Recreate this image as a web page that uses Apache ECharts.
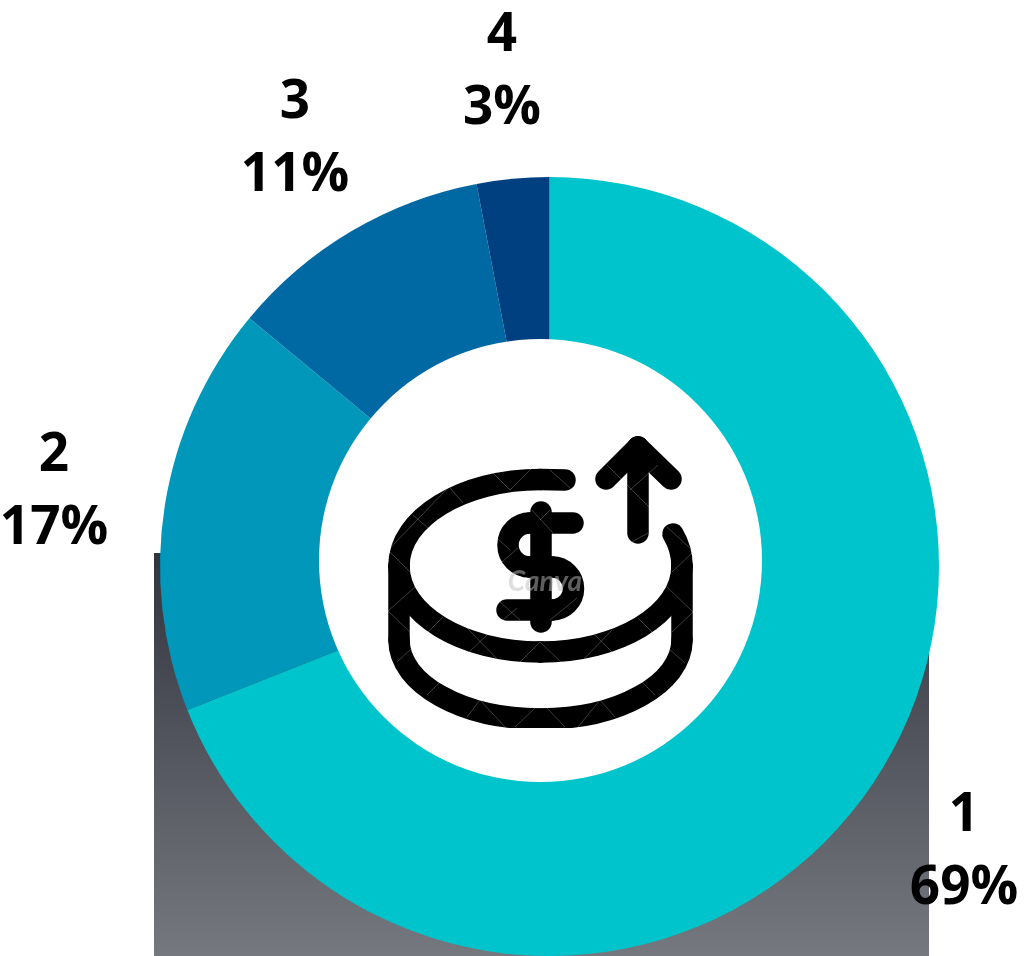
<!DOCTYPE html>
<html>
<head>
<meta charset="utf-8">
<style>
  html, body { margin: 0; padding: 0; background: #fff; overflow: hidden; }
  #chart { width: 1025px; height: 956px; }
</style>
</head>
<body>
<div id="chart"></div>
<script src="https://cdn.jsdelivr.net/npm/echarts@6/dist/echarts.min.js"></script>
<script>
const categories = ["1", "2", "3", "4"];
const shares = [69, 17, 11, 3];
const sliceColors = ["#00c4cc", "#0097bb", "#0069a3", "#003f80"];
const labelSpots = [[964, 852.5], [54, 492], [295, 139], [502, 72]];

const iconStroke = { fill: null, stroke: "#000", lineWidth: 21.5, lineCap: "round", lineJoin: "round" };

// faint lattice that crosses the black strokes of the icon image
const latticeLines = [
  [390, 548, 448, 488], [413, 515, 428, 528], [450, 488, 463, 503], [493, 473, 510, 490],
  [510, 490, 532, 468], [390, 552, 410, 572], [388, 611, 415, 587], [388, 611, 410, 632],
  [397, 662, 412, 648], [428, 632, 443, 617], [467, 628, 500, 662], [468, 653, 487, 635],
  [520, 662, 540, 642], [427, 695, 440, 682], [480, 700, 505, 727], [467, 717, 480, 700],
  [515, 727, 535, 708], [502, 562, 518, 548], [497, 538, 510, 550], [500, 602, 520, 620],
  [503, 620, 517, 608], [532, 510, 553, 533], [540, 520, 550, 510], [550, 470, 570, 488],
  [630, 490, 658, 465], [607, 465, 650, 508], [630, 543, 648, 533], [667, 527, 690, 548],
  [672, 572, 692, 553], [667, 587, 693, 612], [672, 632, 693, 612], [668, 648, 685, 663],
  [638, 618, 653, 633], [583, 660, 612, 630], [595, 635, 612, 652], [540, 642, 562, 663],
  [642, 682, 655, 695], [578, 727, 600, 700], [600, 700, 615, 717], [547, 708, 565, 727],
  [550, 620, 577, 598],
];

function seg(x1, y1, x2, y2) {
  return { type: "line", z: 10, shape: { x1, y1, x2, y2 }, style: iconStroke };
}

function curve(x1, y1, cpx1, cpy1, cpx2, cpy2, x2, y2) {
  return { type: "bezierCurve", z: 10, shape: { x1, y1, cpx1, cpy1, cpx2, cpy2, x2, y2 }, style: iconStroke };
}

function lobe(cx, cy, r, clockwise) {
  return {
    type: "arc",
    z: 10,
    shape: { cx, cy, r, startAngle: -Math.PI / 2, endAngle: Math.PI / 2, clockwise },
    style: iconStroke,
  };
}

const chart = echarts.init(document.getElementById("chart"));
chart.setOption({
  animation: false,
  graphic: [
    // grey backdrop behind the ring
    {
      type: "rect",
      z: -1,
      shape: { x: 154, y: 553, width: 775, height: 403 },
      style: {
        fill: new echarts.graphic.LinearGradient(0, 0, 0, 1, [
          { offset: 0, color: "#32353e" },
          { offset: 1, color: "#75787e" },
        ]),
      },
    },
    // hole sits a little off the ring's centre
    { type: "circle", z: 9, shape: { cx: 540.5, cy: 560.5, r: 221.5 }, style: { fill: "#fff" } },

    // coin, upper face
    seg(565, 480, 540.5, 479.5),
    curve(540.5, 479.5, 462.5, 479.5, 399, 518, 399, 566),
    curve(399, 566, 399, 614, 462.5, 652, 540.5, 652),
    curve(540.5, 652, 618.5, 652, 682, 614, 682, 566),
    curve(682, 566, 682, 555, 679, 544, 673, 534),
    // coin, edge
    seg(399, 566, 399, 640),
    seg(682, 566, 682, 640),
    curve(399, 640, 399, 684, 462.5, 719, 540.5, 719),
    curve(540.5, 719, 618.5, 719, 682, 684, 682, 640),
    // arrow
    seg(638, 533, 638, 447),
    seg(606, 479, 638, 447),
    seg(671, 479, 638, 447),
    // dollar sign
    seg(541, 512, 541, 622),
    seg(573, 523, 530, 523),
    lobe(530, 545, 22, false),
    seg(530, 567, 552, 567),
    lobe(552, 588.5, 21.5, true),
    seg(552, 610, 507, 610),
    // the source image is cut flat along its bottom edge
    { type: "rect", z: 10.5, shape: { x: 420, y: 728, width: 240, height: 6 }, style: { fill: "#fff" } },
    ...latticeLines.map(([x1, y1, x2, y2]) => ({
      type: "line",
      z: 10.6,
      shape: { x1, y1, x2, y2 },
      style: { stroke: "rgba(255,255,255,0.24)", lineWidth: 1 },
    })),
    {
      type: "text",
      z: 11,
      x: 545,
      y: 582,
      style: {
        text: "Canva",
        fill: "rgba(190,190,190,0.5)",
        font: "italic bold 28px Lato",
        align: "center",
        verticalAlign: "middle",
      },
    },
  ],
  series: [
    {
      type: "pie",
      z: 2,
      center: [549.5, 566.5],
      radius: [0, 389.5],
      startAngle: 90,
      clockwise: true,
      silent: true,
      itemStyle: { borderWidth: 0 },
      label: {
        show: true,
        position: "outside",
        formatter: "{b}\n{d}%",
        fontFamily: "Open Sans",
        fontWeight: "bold",
        fontSize: 53,
        lineHeight: 73,
        color: "#000",
        align: "center",
        overflow: "none",
      },
      labelLine: { show: false },
      labelLayout: (p) => ({
        x: labelSpots[p.dataIndex][0],
        y: labelSpots[p.dataIndex][1],
        align: "center",
        verticalAlign: "middle",
      }),
      data: categories.map((name, i) => ({
        name,
        value: shares[i],
        itemStyle: { color: sliceColors[i] },
      })),
    },
  ],
});
</script>
</body>
</html>
